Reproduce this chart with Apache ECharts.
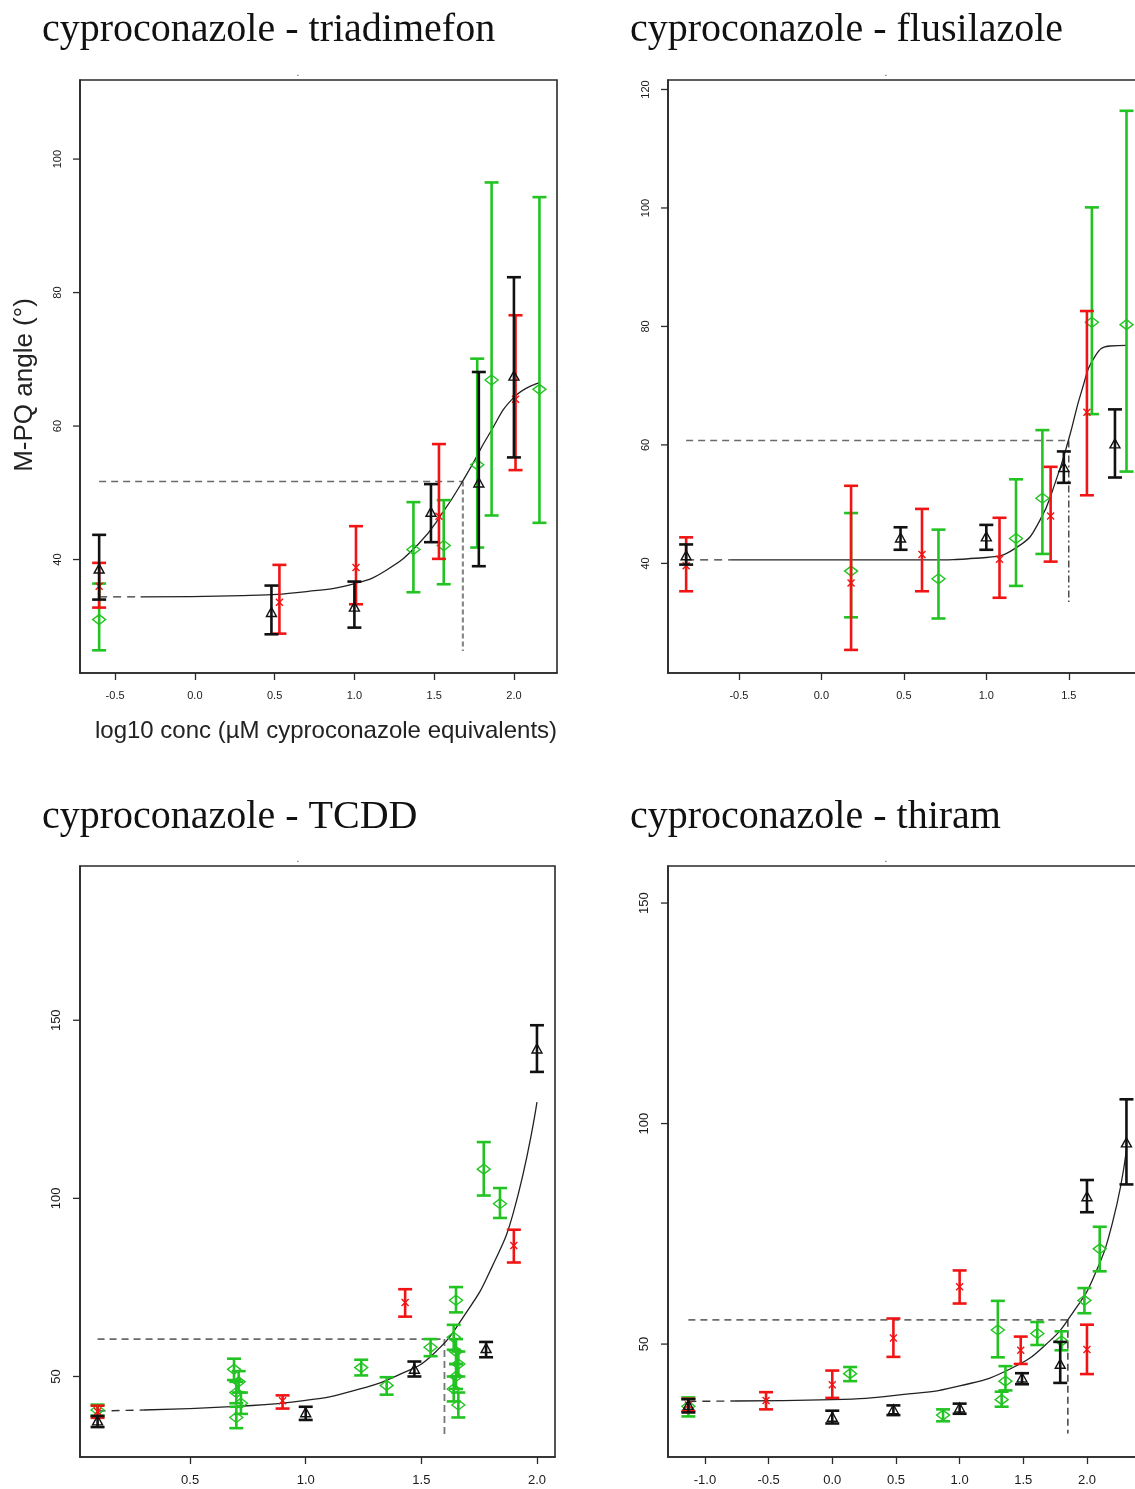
<!DOCTYPE html>
<html>
<head>
<meta charset="utf-8">
<title>Cyproconazole binary mixtures – M-PQ angle</title>
<script src="https://cdn.jsdelivr.net/npm/echarts@6/dist/echarts.min.js"></script>
<style>
  html, body { margin: 0; padding: 0; overflow: hidden; background: #ffffff; }
  #chart { width: 1150px; height: 1489px; }
</style>
</head>
<body>
<div id="chart"></div>
<script>
// ---------- text ----------
const panelTitles = [
  'cyproconazole - triadimefon',
  'cyproconazole - flusilazole',
  'cyproconazole - TCDD',
  'cyproconazole - thiram'
];
const yAxisTitle = 'M-PQ angle (°)';
const xAxisTitle = 'log10 conc (µM cyproconazole equivalents)';

// ---------- axis extents and ticks ----------
const triadimefonXRange = [-0.72, 2.27];
const triadimefonYRange = [23.0, 111.85];
const triadimefonXTicks = [-0.5, 0, 0.5, 1, 1.5, 2];
const triadimefonYTicks = [40, 60, 80, 100];

const flusilazoleXRange = [-0.93, 1.95];
const flusilazoleYRange = [21.5, 121.6];
const flusilazoleXTicks = [-0.5, 0, 0.5, 1, 1.5];
const flusilazoleYTicks = [40, 60, 80, 100, 120];

const tcddXRange = [0.024, 2.078];
const tcddYRange = [27.4, 193.3];
const tcddXTicks = [0.5, 1, 1.5, 2];
const tcddYTicks = [50, 100, 150];

const thiramXRange = [-1.29, 2.44];
const thiramYRange = [24.4, 158.4];
const thiramXTicks = [-1, -0.5, 0, 0.5, 1, 1.5, 2];
const thiramYTicks = [50, 100, 150];

// ---------- observations: [log10 conc, mean, bar low, bar high] ----------
// cyproconazole - triadimefon
const triadimefonBlack = [
  [-0.60, 38.5, 34.0, 43.7], [0.48, 32.0, 28.8, 36.1], [1.00, 32.8, 29.8, 36.7],
  [1.48, 47.0, 42.6, 51.3], [1.78, 51.4, 39.0, 68.1], [2.00, 67.4, 55.3, 82.3]
];
const triadimefonRed = [
  [-0.60, 36.0, 32.8, 39.5], [0.53, 33.6, 28.9, 39.2], [1.01, 38.8, 33.3, 45.0],
  [1.53, 46.5, 40.1, 57.3], [2.01, 64.0, 53.4, 76.6]
];
const triadimefonGreen = [
  [-0.60, 31.0, 26.4, 36.4], [1.37, 41.5, 35.1, 48.6], [1.56, 42.1, 36.3, 48.9],
  [1.77, 54.2, 41.8, 70.1], [1.86, 66.9, 46.6, 96.5], [2.16, 65.5, 45.5, 94.3]
];

// cyproconazole - flusilazole
const flusilazoleBlack = [
  [-0.82, 41.2, 39.8, 43.2], [0.48, 44.2, 42.3, 46.1], [1.00, 44.4, 42.3, 46.5],
  [1.47, 56.1, 53.6, 58.9], [1.78, 60.1, 54.5, 66.0]
];
const flusilazoleRed = [
  [-0.82, 39.6, 35.3, 44.4], [0.18, 36.7, 25.4, 53.1], [0.61, 41.5, 35.3, 49.2],
  [1.08, 40.7, 34.2, 47.7], [1.39, 48.0, 40.3, 56.3], [1.61, 65.5, 51.5, 82.6]
];
const flusilazoleGreen = [
  [0.18, 38.7, 30.9, 48.5], [0.71, 37.4, 30.7, 45.7], [1.18, 44.2, 36.2, 54.2],
  [1.34, 51.0, 41.6, 62.5], [1.64, 80.7, 65.2, 100.1], [1.85, 80.3, 55.5, 116.4]
];

// cyproconazole - TCDD
const tcddBlack = [
  [0.10, 37.4, 35.8, 38.9], [1.00, 39.7, 37.8, 41.5], [1.47, 51.9, 50.0, 54.2],
  [1.78, 57.7, 55.4, 59.7], [2.00, 141.8, 135.5, 148.6]
];
const tcddRed = [
  [0.10, 40.2, 38.4, 41.8], [0.90, 43.2, 41.0, 44.7], [1.43, 70.8, 66.8, 74.5],
  [1.90, 86.8, 82.0, 91.2]
];
const tcddGreen = [
  [0.10, 40.6, 39.0, 42.1],
  [0.69, 52.0, 49.0, 55.0], [0.71, 48.5, 45.5, 51.5], [0.70, 45.5, 42.5, 48.5],
  [0.72, 42.5, 39.5, 45.5], [0.70, 38.5, 35.5, 41.5],
  [1.24, 52.5, 50.3, 54.7], [1.35, 47.5, 44.9, 49.8], [1.54, 58.2, 55.7, 60.5],
  [1.65, 71.4, 68.0, 75.1],
  [1.64, 61.0, 57.5, 64.5], [1.65, 57.0, 53.5, 60.5], [1.66, 53.5, 50.0, 57.0],
  [1.65, 50.0, 46.5, 53.5], [1.64, 46.5, 43.0, 50.0], [1.66, 42.0, 38.5, 45.5],
  [1.77, 108.2, 100.8, 115.8], [1.84, 98.5, 94.5, 102.9]
];

// cyproconazole - thiram
const thiramBlack = [
  [-1.13, 36.0, 34.5, 37.5], [0.00, 33.3, 32.0, 34.9], [0.48, 35.0, 33.9, 36.1],
  [1.00, 35.4, 34.2, 36.5], [1.49, 42.2, 40.9, 43.4], [1.79, 45.3, 41.2, 50.5],
  [2.00, 83.3, 79.9, 87.2], [2.31, 95.5, 86.2, 105.5]
];
const thiramRed = [
  [-1.13, 36.2, 34.8, 37.6], [-0.52, 37.2, 35.2, 39.1], [0.00, 40.8, 37.8, 44.0],
  [0.48, 51.4, 47.1, 55.8], [1.00, 63.0, 59.2, 66.7], [1.48, 48.6, 45.5, 51.7],
  [2.00, 48.8, 43.2, 54.4]
];
const thiramGreen = [
  [-1.13, 35.9, 33.6, 37.9], [0.14, 43.3, 41.6, 44.8], [0.87, 33.9, 32.5, 35.2],
  [1.30, 53.2, 47.0, 59.8], [1.33, 37.4, 35.8, 39.2], [1.36, 41.6, 39.5, 45.0],
  [1.61, 52.4, 49.8, 55.0], [1.80, 50.7, 48.6, 52.9], [1.98, 59.9, 57.0, 62.7],
  [2.10, 71.6, 66.5, 76.6]
];

// ---------- fitted mixture curves: dashed lead-in, then solid ----------
const triadimefonLeadIn = [[-0.60, 34.4], [-0.34, 34.4]];
const triadimefonCurve = [
  [-0.34, 34.4], [0.3, 34.6], [0.7, 35.2], [1.0, 36.4], [1.2, 38.4],
  [1.4, 42.3], [1.55, 46.9], [1.7, 52.6], [1.85, 59.0],
  [2.0, 64.3], [2.16, 66.5]
];
const flusilazoleLeadIn = [[-0.82, 40.6], [-0.55, 40.6]];
const flusilazoleCurve = [
  [-0.55, 40.6], [0.6, 40.6], [1.0, 41.0], [1.2, 43.0],
  [1.32, 47.0], [1.42, 53.8], [1.50, 61.0], [1.58, 69.3],
  [1.66, 75.0], [1.75, 76.7], [1.85, 76.8]
];
const tcddLeadIn = [[0.10, 40.3], [0.30, 40.6]];
const tcddCurve = [
  [0.30, 40.6], [0.7, 41.6], [1.0, 43.3], [1.2, 45.9], [1.4, 50.4],
  [1.55, 56.2], [1.7, 68.5], [1.8, 80.0], [1.9, 96.5], [2.0, 127.0]
];
const thiramLeadIn = [[-1.13, 37.0], [-0.77, 37.1]];
const thiramCurve = [
  [-0.77, 37.1], [0.0, 37.4], [0.6, 38.7], [1.0, 40.5], [1.4, 44.4],
  [1.7, 50.5], [1.9, 57.6], [2.05, 65.0], [2.2, 77.5], [2.31, 94.0]
];

// ---------- effect-level guides: [start x, crossing x, level, foot of drop line] ----------
const triadimefonGuide = [-0.60, 1.68, 51.7, 26.3];
const flusilazoleGuide = [-0.82, 1.50, 60.75, 33.5];
const tcddGuide = [0.10, 1.60, 60.5, 33.1];
const thiramGuide = [-1.13, 1.85, 55.5, 29.7];

// ======================================================================
const INK = { black: '#111111', red: '#f01414', green: '#22c322' };
const SANS = '"Liberation Sans", Arial, sans-serif';
const SERIF = '"Liberation Serif", "Times New Roman", serif';
const FRAME = '#2a2a2a';
const TICK_LEN = 7;

const boxes = [
  { left: 80,  top: 80,  width: 477, height: 593 },
  { left: 668, top: 80,  width: 475, height: 593 },
  { left: 80,  top: 866, width: 475, height: 591 },
  { left: 668, top: 866, width: 475, height: 591 }
];

const panels = [
  { xr: triadimefonXRange, yr: triadimefonYRange, xt: triadimefonXTicks, yt: triadimefonYTicks,
    black: triadimefonBlack, red: triadimefonRed, green: triadimefonGreen,
    lead: triadimefonLeadIn, curve: triadimefonCurve, guide: triadimefonGuide,
    labelSize: 11, dropStyle: { color: '#888888', width: 2.2, type: [5, 3] } },
  { xr: flusilazoleXRange, yr: flusilazoleYRange, xt: flusilazoleXTicks, yt: flusilazoleYTicks,
    black: flusilazoleBlack, red: flusilazoleRed, green: flusilazoleGreen,
    lead: flusilazoleLeadIn, curve: flusilazoleCurve, guide: flusilazoleGuide,
    labelSize: 11, dropStyle: { color: '#333333', width: 1.3, type: [7, 3, 2, 3] } },
  { xr: tcddXRange, yr: tcddYRange, xt: tcddXTicks, yt: tcddYTicks,
    black: tcddBlack, red: tcddRed, green: tcddGreen,
    lead: tcddLeadIn, curve: tcddCurve, guide: tcddGuide,
    labelSize: 13, dropStyle: { color: '#777777', width: 1.8, type: [7, 4] } },
  { xr: thiramXRange, yr: thiramYRange, xt: thiramXTicks, yt: thiramYTicks,
    black: thiramBlack, red: thiramRed, green: thiramGreen,
    lead: thiramLeadIn, curve: thiramCurve, guide: thiramGuide,
    labelSize: 13, dropStyle: { color: '#333333', width: 1.4, type: [7, 4] } }
];

// Error bar with caps plus an open marker at the mean.
function errorBarSeries(points, color, marker, idx) {
  return {
    type: 'custom',
    xAxisIndex: idx, yAxisIndex: idx,
    data: points,
    encode: { x: 0, y: [1, 2, 3] },
    z: marker === 'triangle' ? 5 : 4,
    silent: true,
    renderItem(params, api) {
      const x = api.value(0);
      const pm = api.coord([x, api.value(1)]);
      const pl = api.coord([x, api.value(2)]);
      const ph = api.coord([x, api.value(3)]);
      const bar = { stroke: color, lineWidth: 2.6, fill: 'none' };
      const cap = 7;
      const kids = [
        { type: 'line', shape: { x1: pl[0], y1: pl[1], x2: ph[0], y2: ph[1] }, style: bar },
        { type: 'line', shape: { x1: pl[0] - cap, y1: pl[1], x2: pl[0] + cap, y2: pl[1] }, style: bar },
        { type: 'line', shape: { x1: ph[0] - cap, y1: ph[1], x2: ph[0] + cap, y2: ph[1] }, style: bar }
      ];
      const mk = { stroke: color, lineWidth: 1.4, fill: 'none' };
      const cx = pm[0], cy = pm[1];
      if (marker === 'triangle') {
        kids.push({ type: 'polygon', shape: { points: [[cx, cy - 5.5], [cx - 5, cy + 3.5], [cx + 5, cy + 3.5]] }, style: mk });
      } else if (marker === 'diamond') {
        kids.push({ type: 'polygon', shape: { points: [[cx, cy - 5], [cx + 6.5, cy], [cx, cy + 5], [cx - 6.5, cy]] }, style: mk });
      } else {
        kids.push({ type: 'line', shape: { x1: cx - 3.5, y1: cy - 3.5, x2: cx + 3.5, y2: cy + 3.5 }, style: mk });
        kids.push({ type: 'line', shape: { x1: cx - 3.5, y1: cy + 3.5, x2: cx + 3.5, y2: cy - 3.5 }, style: mk });
      }
      return { type: 'group', children: kids };
    }
  };
}

function lineSeries(data, idx, lineStyle, smooth) {
  return {
    type: 'line', xAxisIndex: idx, yAxisIndex: idx, data,
    symbol: 'none', showSymbol: false, silent: true, z: 3,
    smooth: smooth ? 0.5 : false,
    lineStyle
  };
}

const grid = [], xAxis = [], yAxis = [], series = [];

panels.forEach((p, i) => {
  grid.push(Object.assign({ show: true, borderColor: FRAME, borderWidth: 1.6, backgroundColor: 'transparent' }, boxes[i]));
  const tickStyle = { color: FRAME, width: 1.3 };
  const lineStyle = { color: FRAME, width: 1.6 };
  xAxis.push({
    gridIndex: i, type: 'value', min: p.xr[0], max: p.xr[1], position: 'bottom',
    axisLine: { show: true, onZero: false, lineStyle }, splitLine: { show: false },
    axisTick: { show: true, inside: false, length: TICK_LEN, customValues: p.xt, lineStyle: tickStyle },
    axisLabel: { customValues: p.xt, formatter: v => v.toFixed(1), fontSize: p.labelSize,
                 fontFamily: SANS, color: '#1a1a1a', margin: 17 }
  });
  yAxis.push({
    gridIndex: i, type: 'value', min: p.yr[0], max: p.yr[1], position: 'left',
    axisLine: { show: true, onZero: false, lineStyle }, splitLine: { show: false },
    axisTick: { show: false },
    axisLabel: { customValues: p.yt, formatter: v => String(v), rotate: 90, fontSize: p.labelSize,
                 fontFamily: SANS, color: '#1a1a1a', margin: 17 }
  });

  const g = p.guide;
  series.push(lineSeries([[g[0], g[2]], [g[1], g[2]]], i, { color: '#6a6a6a', width: 1.6, type: [7, 5] }, false));
  series.push(lineSeries([[g[1], g[2]], [g[1], g[3]]], i, p.dropStyle, false));
  series.push(lineSeries(p.lead, i, { color: '#333333', width: 1.4, type: [8, 6] }, false));
  series.push(lineSeries(p.curve, i, { color: '#222222', width: 1.3 }, true));

  series.push(errorBarSeries(p.green, INK.green, 'diamond', i));
  series.push(errorBarSeries(p.red, INK.red, 'cross', i));
  series.push(errorBarSeries(p.black, INK.black, 'triangle', i));
});

const titlePos = [[42, 30], [630, 30], [42, 817], [630, 817]];
const graphic = panelTitles.map((t, i) => ({
  type: 'text', x: titlePos[i][0], y: titlePos[i][1], silent: true,
  style: { text: t, font: '40px ' + SERIF, fill: '#111111', verticalAlign: 'middle', align: 'left' }
}));
// small centred dot above each plot frame
boxes.forEach(b => graphic.push({
  type: 'text', x: b.left + 218, y: b.top - 7, silent: true,
  style: { text: '.', font: '10px ' + SANS, fill: '#444444', align: 'center', verticalAlign: 'middle' }
}));
graphic.push({
  type: 'text', x: 25, y: 385, rotation: Math.PI / 2, silent: true,
  style: { text: yAxisTitle, font: '26px ' + SANS, fill: '#222222', align: 'center', verticalAlign: 'middle' }
});
graphic.push({
  type: 'text', x: 326, y: 731, silent: true,
  style: { text: xAxisTitle, font: '24px ' + SANS, fill: '#222222', align: 'center', verticalAlign: 'middle' }
});

const chart = echarts.init(document.getElementById('chart'), null, { renderer: 'canvas' });
chart.setOption({
  animation: false,
  backgroundColor: '#ffffff',
  grid, xAxis, yAxis, series, graphic
});

// Outward y tick marks on the left frame edge, positioned through each panel's scale.
const yTickMarks = [];
panels.forEach((p, i) => {
  p.yt.forEach(v => {
    const pt = chart.convertToPixel({ gridIndex: i }, [p.xr[0], v]);
    yTickMarks.push({
      type: 'line', silent: true, z: 10,
      shape: { x1: pt[0] - TICK_LEN, y1: pt[1], x2: pt[0], y2: pt[1] },
      style: { stroke: FRAME, lineWidth: 1.3 }
    });
  });
});
chart.setOption({ graphic: graphic.concat(yTickMarks) });
</script>
</body>
</html>
